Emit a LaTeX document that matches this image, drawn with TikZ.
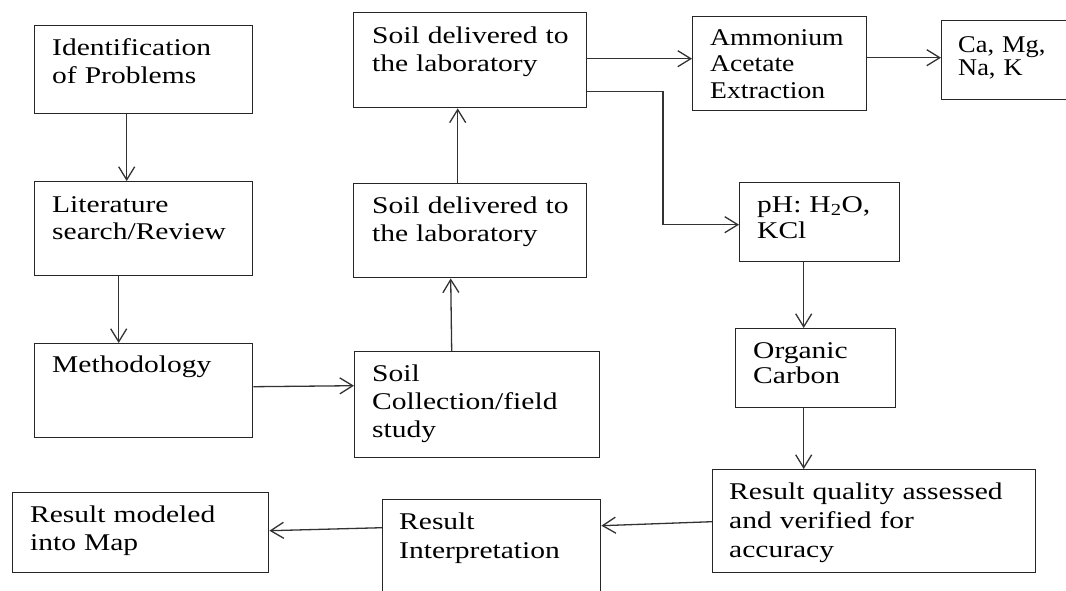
\documentclass[tikz,border=0pt]{standalone}
\usepackage{fontspec}
\setmainfont{Liberation Serif}[FakeStretch=1.23]
\newfontfamily\ammfont{Liberation Serif}[FakeStretch=1.15]
\newfontfamily\cafont{Liberation Serif}[FakeStretch=1.10]
\usetikzlibrary{arrows.meta,calc}
\begin{document}
\begin{tikzpicture}[x=1pt,y=-1pt,
  box/.style={draw=black!85, line width=1.4pt, inner sep=0pt, anchor=north west},
  txt/.style={anchor=base west, inner sep=0pt, align=left, text width=330pt, font=\fontsize{24}{28}\selectfont},
  arr/.style={draw=black!80, line width=1.3pt, -{Straight Barb[length=13pt,width=16pt,line width=1.3pt]}}]
\clip (0,0) rectangle (1066,590);
\fill[white] (0,0) rectangle (1066,590);
% boxes
\node[box, minimum width=218pt, minimum height=88pt]  (id)   at (34,25)  {};
\node[box, minimum width=218pt, minimum height=94pt]  (lit)  at (34,181) {};
\node[box, minimum width=218pt, minimum height=94pt]  (meth) at (34,343) {};
\node[box, minimum width=256pt, minimum height=80pt]  (rm)   at (12,492) {};
\node[box, minimum width=233pt, minimum height=95pt]  (sd1)  at (353,12) {};
\node[box, minimum width=233pt, minimum height=94pt]  (sd2)  at (353,183) {};
\node[box, minimum width=245pt, minimum height=106pt] (sc)   at (354,351) {};
\node[box, minimum width=218pt, minimum height=101pt] (ri)   at (382,499) {};
\node[box, minimum width=174pt, minimum height=94pt]  (amm)  at (692,16) {};
\node[box, minimum width=134pt, minimum height=79pt]  (ca)   at (941,20) {};
\node[box, minimum width=160pt, minimum height=79pt]  (ph)   at (739,182) {};
\node[box, minimum width=160pt, minimum height=79pt]  (org)  at (735,328) {};
\node[box, minimum width=323pt, minimum height=103pt] (rq)   at (712,469) {};
% texts
\node[txt] (tid)   at (52,55)   {Identification\\of Problems};
\node[txt, font=\fontsize{24}{27}\selectfont] (tlit) at (52,212) {Literature\\search/Review};
\node[txt] (tmeth) at (52,372)  {Methodology};
\node[txt] (trm)   at (30,522)  {Result modeled\\into Map};
\node[txt] (tsd1)  at (372,43)  {Soil delivered to\\the laboratory};
\node[txt] (tsd2)  at (372,213) {Soil delivered to\\the laboratory};
\node[txt] (tsc)   at (372,381) {Soil\\Collection/field\\study};
\node[txt, font=\fontsize{24}{29}\selectfont] (tri) at (399,529) {Result\\Interpretation};
\node[txt, font=\ammfont\fontsize{24}{26.5}\selectfont] (tamm) at (710,45) {Ammonium\\Acetate\\Extraction};
\node[txt, font=\cafont\fontsize{24}{23}\selectfont] (tca) at (958,52) {Ca, Mg,\\Na, K};
\node[txt, font=\fontsize{24}{26}\selectfont] (tph) at (757,212) {pH: H\textsubscript{2}O,\\KCl};
\node[txt, font=\fontsize{24}{25}\selectfont] (torg) at (753,358) {Organic\\Carbon};
\node[txt, font=\fontsize{24}{29}\selectfont] (trq) at (729,499) {Result quality assessed\\and verified for\\accuracy};
% connectors
\draw[arr] ([xshift=-17pt]id.south) -- ([xshift=-17pt]lit.north);
\draw[arr] ([xshift=-25pt]lit.south) -- ([xshift=-25pt]meth.north);
\draw[arr] ([yshift=4pt]meth.east) -- ([yshift=19pt]sc.west);
\draw[arr] ([xshift=-25.5pt]sc.north) -- ([xshift=-19.5pt]sd2.south);
\draw[arr] ([xshift=-12.5pt]sd2.north) -- ([xshift=-12.5pt]sd1.south);
\draw[arr] ([yshift=1.5pt]sd1.east) -- ([yshift=5pt]amm.west);
\draw[arr] ([yshift=-31.5pt]sd1.east) -| ([xshift=-76pt,yshift=-2.5pt]ph.west) -- ([yshift=-2.5pt]ph.west);
\draw[arr] ([yshift=6pt]amm.east) -- ([yshift=2.5pt]ca.west);
\draw[arr] ([xshift=-16pt]ph.south) -- ([xshift=-12pt]org.north);
\draw[arr] ([xshift=-12pt]org.south) -- ([xshift=-70.5pt]rq.north);
\draw[arr] ([yshift=-0.5pt]rq.west) -- ([yshift=24.5pt]ri.east);
\draw[arr] ([yshift=22.5pt]ri.west) -- ([yshift=2pt]rm.east);
\end{tikzpicture}
\end{document}
